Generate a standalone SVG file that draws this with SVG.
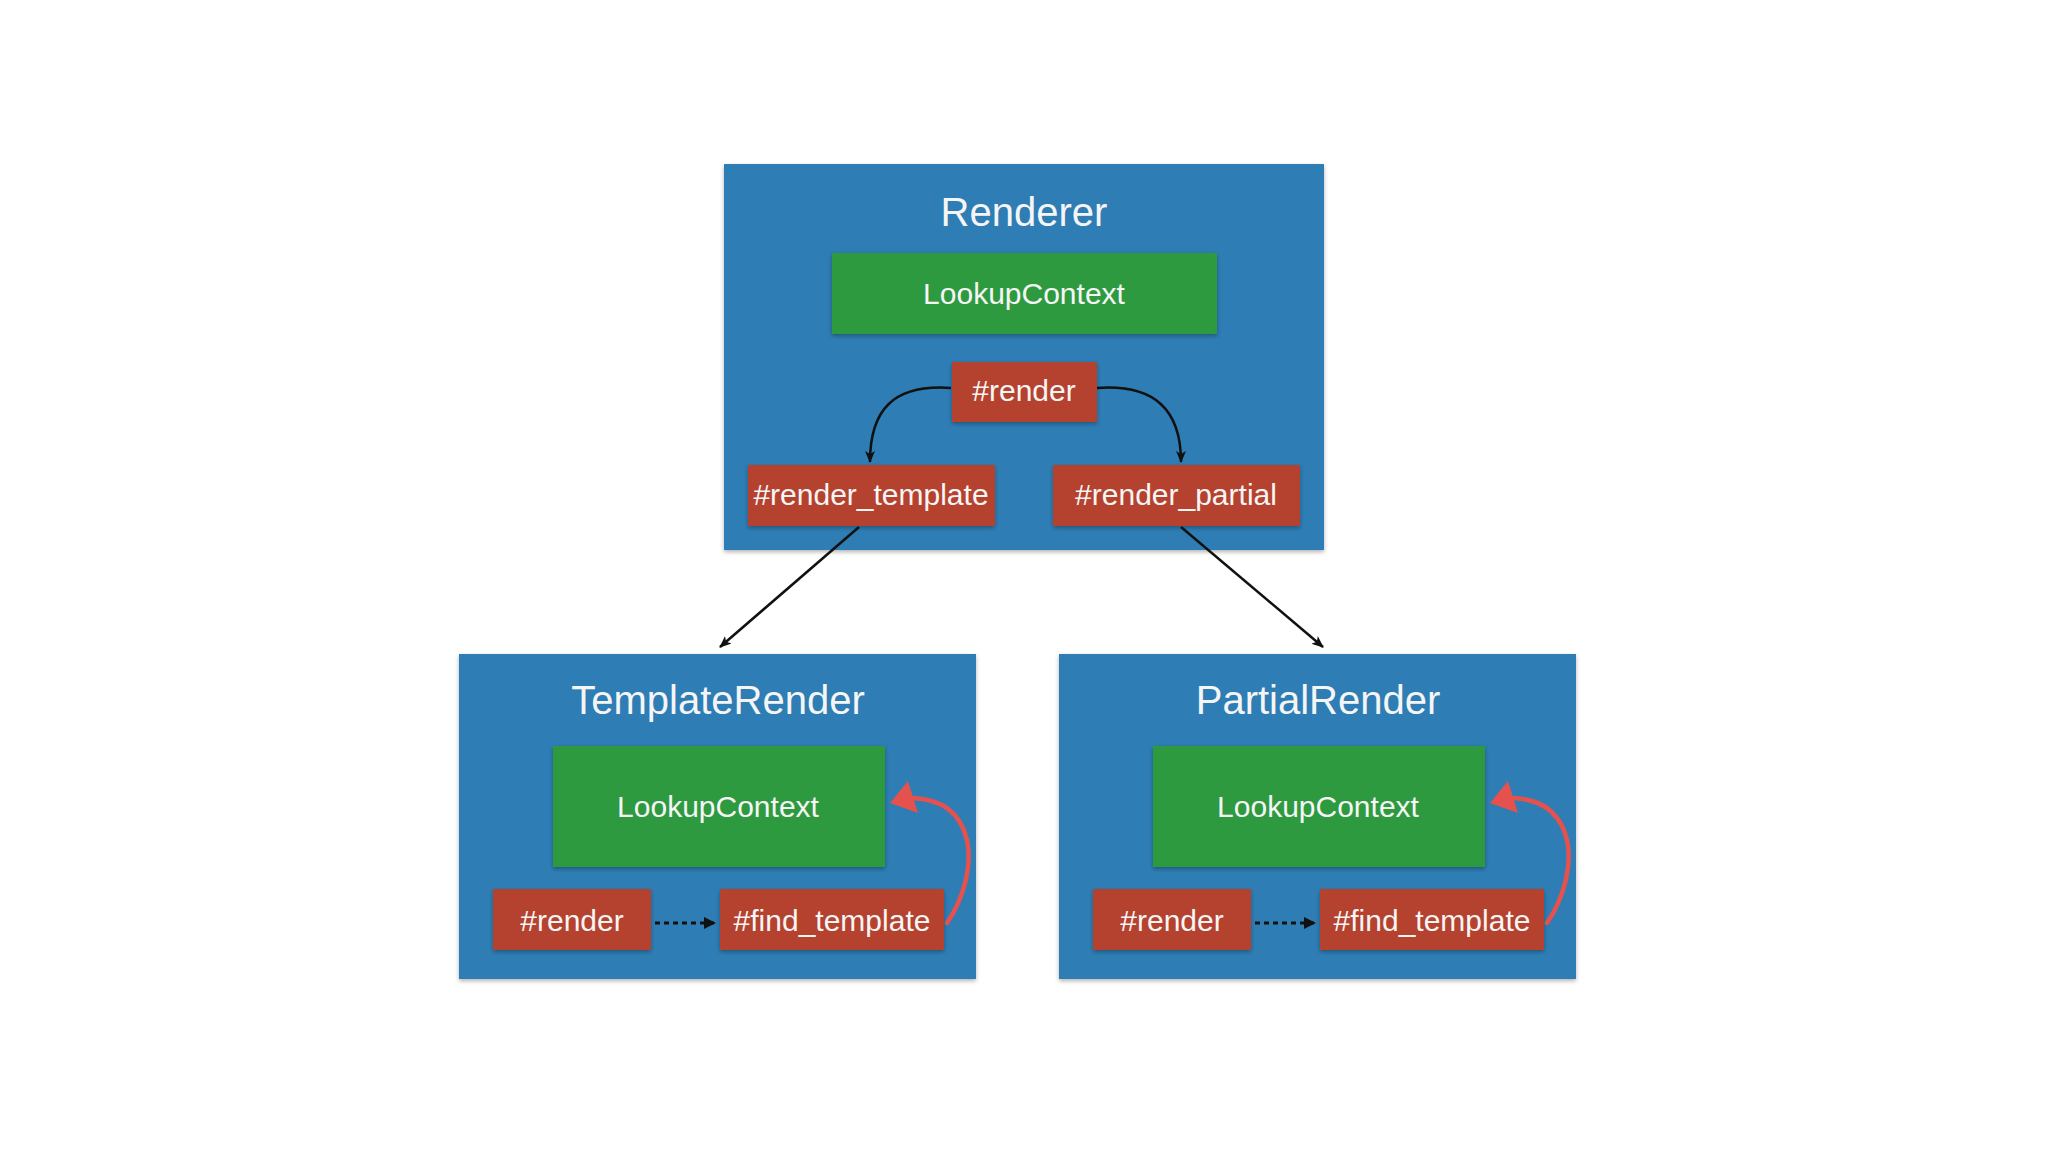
<svg xmlns="http://www.w3.org/2000/svg" width="2048" height="1152" viewBox="0 0 2048 1152">
<defs>
<filter id="sh" x="-10%" y="-10%" width="120%" height="130%">
<feDropShadow dx="0" dy="2" stdDeviation="2" flood-color="#000" flood-opacity="0.3"/>
</filter>
<marker id="ah" viewBox="0 0 12 12" refX="11" refY="6" markerWidth="12" markerHeight="12" markerUnits="userSpaceOnUse" orient="auto">
<path d="M0,1 L12,6 L0,11 L3,6 Z" fill="#111"/>
</marker>
<marker id="ahd" viewBox="0 0 12 12" refX="11" refY="6" markerWidth="12" markerHeight="12" markerUnits="userSpaceOnUse" orient="auto">
<path d="M0,0 L12,6 L0,12 Z" fill="#111"/>
</marker>
</defs>
<style>
.box{fill:#2e7db4;filter:url(#sh)}
.grn{fill:#2f9a3f;filter:url(#sh)}
.red{fill:#b5432f;filter:url(#sh)}
text{font-family:"Liberation Sans",Arial,sans-serif;fill:#f5f5f5;text-anchor:middle}
.t{font-size:40px}
.l{font-size:30px}
.c{fill:none;stroke:#111;stroke-width:2.5}
.d{fill:none;stroke:#111;stroke-width:3;stroke-dasharray:5 4}
.ra{fill:none;stroke:#e5524e;stroke-width:4.5;stroke-linecap:round}
.rh{fill:#e5524e}
</style>
<rect width="2048" height="1152" fill="#fff"/>
<g id="renderer">
<rect class="box" x="724" y="164" width="600" height="386"/>
<text class="t" x="1024" y="226">Renderer</text>
</g>
<g id="renderer-lookup">
<rect class="grn" x="832" y="253" width="385" height="81"/>
<text class="l" x="1024" y="304">LookupContext</text>
</g>
<g id="renderer-render">
<rect class="red" x="952" y="362" width="145" height="60"/>
<text class="l" x="1024" y="401">#render</text>
</g>
<g id="render-template">
<rect class="red" x="748" y="465" width="247" height="61"/>
<text class="l" x="871" y="505">#render_template</text>
</g>
<g id="render-partial">
<rect class="red" x="1053" y="465" width="247" height="61"/>
<text class="l" x="1176" y="505">#render_partial</text>
</g>
<g id="template-render">
<rect class="box" x="459" y="654" width="517" height="325"/>
<text class="t" x="718" y="714">TemplateRender</text>
</g>
<g id="template-lookup">
<rect class="grn" x="553" y="746" width="332" height="121"/>
<text class="l" x="718" y="817">LookupContext</text>
</g>
<g id="template-render-method">
<rect class="red" x="493" y="889" width="158" height="61"/>
<text class="l" x="572" y="931">#render</text>
</g>
<g id="template-find">
<rect class="red" x="720" y="889" width="224" height="61"/>
<text class="l" x="832" y="931">#find_template</text>
</g>
<g id="partial-render">
<rect class="box" x="1059" y="654" width="517" height="325"/>
<text class="t" x="1318" y="714">PartialRender</text>
</g>
<g id="partial-lookup">
<rect class="grn" x="1153" y="746" width="332" height="121"/>
<text class="l" x="1318" y="817">LookupContext</text>
</g>
<g id="partial-render-method">
<rect class="red" x="1093" y="889" width="158" height="61"/>
<text class="l" x="1172" y="931">#render</text>
</g>
<g id="partial-find">
<rect class="red" x="1320" y="889" width="224" height="61"/>
<text class="l" x="1432" y="931">#find_template</text>
</g>
<g id="connectors">
<path class="c" d="M951,388 C893,384 870,410 870,462" marker-end="url(#ah)"/>
<path class="c" d="M1097,388 C1155,384 1181,410 1181,462" marker-end="url(#ah)"/>
<path class="c" d="M859,527 L720,647" marker-end="url(#ah)"/>
<path class="c" d="M1181,527 L1323,647" marker-end="url(#ah)"/>
<path class="d" d="M655,923 L715,923" marker-end="url(#ahd)"/>
<path class="d" d="M1255,923 L1315,923" marker-end="url(#ahd)"/>
<path class="ra" d="M947,923 C966,895 972,862 967,840 C961,815 945,799 912,798"/>
<polygon class="rh" points="890,803 908,781 918,813"/>
<path class="ra" d="M1547,923 C1566,895 1572,862 1567,840 C1561,815 1545,799 1512,798"/>
<polygon class="rh" points="1490,803 1508,781 1518,813"/>
</g>
</svg>
